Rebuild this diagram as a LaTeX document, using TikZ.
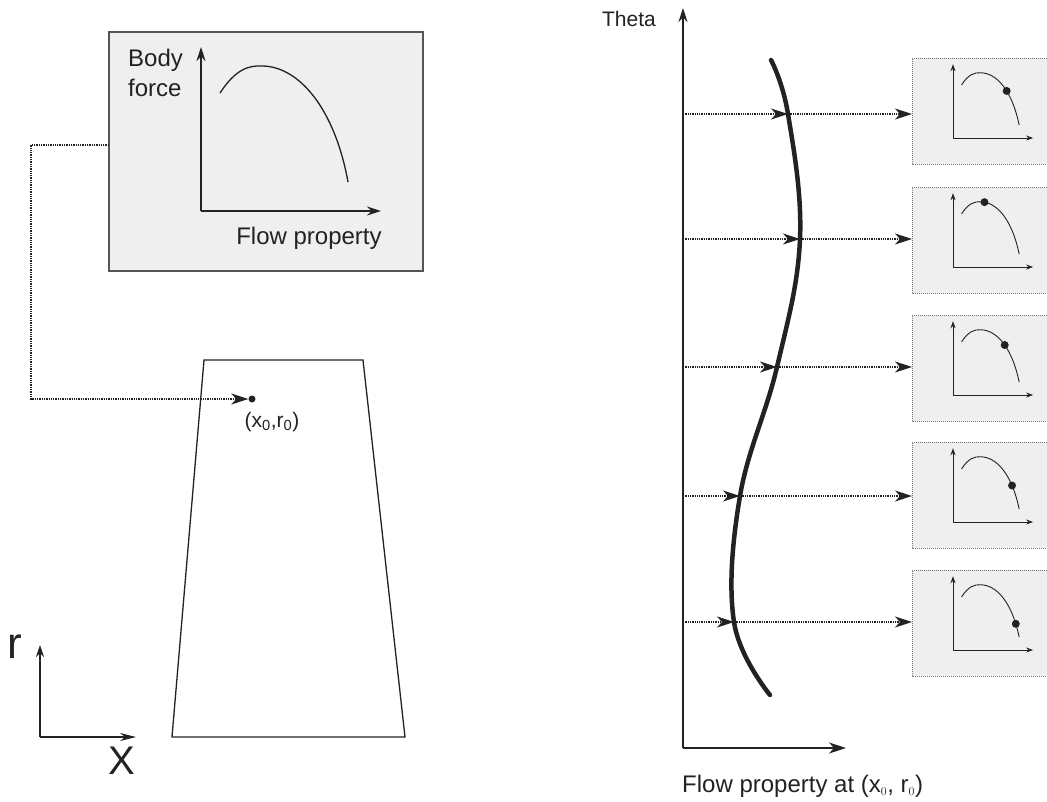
\documentclass[tikz,border=0pt]{standalone}
\usepackage{fontspec}
\setmainfont{Liberation Sans}
\usetikzlibrary{arrows.meta}
\definecolor{boxfill}{HTML}{EFEFEF}
\definecolor{boxline}{HTML}{555555}
\definecolor{ink}{HTML}{222222}
\tikzset{
  axis/.style={draw=ink, line width=1.4pt, -{Stealth[length=14pt,width=9pt]}},
  smallaxis/.style={draw=ink, line width=0.9pt, -{Stealth[length=7pt,width=5pt]}},
  dotline/.style={draw=ink, line width=1.3pt, densely dotted},
  dotarrow/.style={dotline, -{Stealth[length=17pt,width=11pt,inset=5pt]}},
  bigbox/.style={fill=boxfill, draw=boxline, line width=1.2pt},
  smallfill/.style={fill=boxfill, draw=none},
  smalledge/.style={draw=boxline!80, line width=1pt, densely dotted},
  plotcurve/.style={draw=ink, line width=1.3pt},
  dotmark/.style={circle, fill=ink, inner sep=0pt, minimum size=8pt},
  lbl/.style={text=ink, font=\fontsize{24}{30}\selectfont, inner sep=0pt},
}
\begin{document}
\begin{tikzpicture}[x=1pt,y=-1pt]
\useasboundingbox (0,0) rectangle (1047,801);

% ---------- left: body force box ----------
\path[bigbox] (109,32) rectangle (423,271);
\coordinate (bfL) at (109,145);
\coordinate (bo) at (201,211);
\draw[axis] (bo) -- (201,47);
\draw[axis] (bo) -- (381,211);
\draw[plotcurve] (220,93) .. controls (235,70) and (248,65) .. (263,66)
   .. controls (300,67) and (335,110) .. (348,182);
\node[lbl, align=left, anchor=north west] (bfl) at (128,49) {Body\\force};
\node[lbl, anchor=center] (fpl) at (309,238) {Flow property};

% ---------- trapezoid ----------
\draw[ink, line width=1.3pt] (204,360) -- (363,360) -- (405,737) -- (172,737) -- cycle;
\node[dotmark, minimum size=7pt] (pt) at (252,399) {};
\node[text=ink, font=\fontsize{21}{24}\selectfont, inner sep=0pt] (ptl) at (272,422) {(x$_{\mathrm{0}}$,r$_{\mathrm{0}}$)};
\coordinate (c1) at (31,145);
\coordinate (c2) at (31,399);
\draw[dotarrow] (bfL) -- (c1) -- (c2) -- (pt.west);

% ---------- r-x axes ----------
\coordinate (ro) at (40,737);
\draw[draw=ink, line width=1.3pt, -{Stealth[length=12pt,width=8pt]}] (ro) -- (40,645);
\draw[draw=ink, line width=1.3pt, -{Stealth[length=16pt,width=8pt]}] (ro) -- (136,737);
\node[text=ink, font=\fontsize{44}{46}\selectfont, inner sep=0pt] (rl) at (15,647) {r};
\node[text=ink, font=\fontsize{40}{42}\selectfont, inner sep=0pt] (xl) at (122,761) {X};

% ---------- right: theta axes ----------
\coordinate (to) at (683,748);
\draw[axis] (to) -- (683,8);
\draw[axis, -{Stealth[length=17pt,width=11pt,inset=5pt]}] (to) -- (846,748);
\node[text=ink, font=\fontsize{21}{24}\selectfont, inner sep=0pt, anchor=east] (thl) at (656,19) {Theta};
\node[lbl, anchor=west] (fpa) at (682,786) {Flow property at (x$_{\scriptscriptstyle 0}$, r$_{\scriptscriptstyle 0}$)};

% thick curve
\draw[ink, line width=4.5pt, line cap=round] plot[smooth, tension=0.65]
  coordinates {(771,60) (788,114) (800,239) (777,367) (740,496) (734,622) (770,695)};

% ---------- small boxes ----------
\foreach \top/\ay/\cx/\t [count=\i] in {58/114/788/0.6, 187/239/800/0.08, 315/367/777/0.55, 442/496/740/0.75, 570/622/734/0.87}{
  \path[smallfill] (912,\top) rectangle (1047,\top+106);
  \draw[smalledge] (1047,\top) -- (912,\top) -- (912,\top+106) -- (1047,\top+106);
  \coordinate (a\i) at (683,\ay);
  \coordinate (m\i) at (\cx,\ay);
  \coordinate (b\i) at (912,\ay);
  \draw[dotarrow] (a\i) -- (m\i);
  \draw[dotarrow] (m\i) -- (b\i);
  \begin{scope}[shift={(953,\top+80)}, scale=0.45]
    \draw[smallaxis] (0,0) -- (0,-164);
    \draw[smallaxis] (0,0) -- (178,0);
    \draw[ink, line width=0.9pt] (19,-118) .. controls (34,-141) and (47,-146) .. (62,-145)
      .. controls (95,-144) and (130,-110) .. node[dotmark, pos=\t] (d\i) {} (147,-29);
  \end{scope}
}
\end{tikzpicture}
\end{document}
